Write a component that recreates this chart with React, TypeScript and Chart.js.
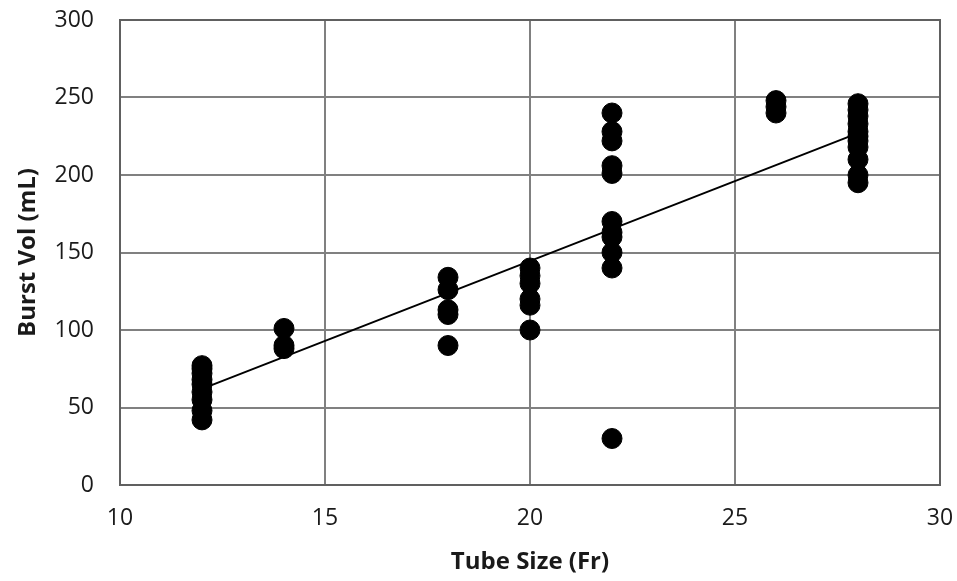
import React, { useEffect, useRef } from "react";
import { Chart, registerables } from "chart.js";

Chart.register(...registerables);

const xTicks = [10, 15, 20, 25, 30];
const yTicks = [0, 50, 100, 150, 200, 250, 300];

const size12 = [77, 75, 72, 68, 65, 60, 55, 48, 42];
const size14 = [101, 90, 88];
const size18 = [134, 126, 113, 110, 90];
const size20 = [140, 135, 130, 120, 116, 100];
const size22 = [240, 228, 222, 206, 201, 170, 163, 160, 150, 140, 30];
const size26 = [248, 244, 240];
const size28 = [246, 242, 238, 233, 228, 225, 222, 218, 210, 200, 195];

const groups: [number, number[]][] = [
  [12, size12],
  [14, size14],
  [18, size18],
  [20, size20],
  [22, size22],
  [26, size26],
  [28, size28],
];

const trendX = [12, 28];
const trendY = [62, 227];

export default function App() {
  const ref = useRef<HTMLCanvasElement | null>(null);
  useEffect(() => {
    document.body.style.margin = "0";
    const points = groups.flatMap(([x, ys]) => ys.map((y) => ({ x, y })));
    const trend = trendX.map((x, i) => ({ x, y: trendY[i] }));
    const font = "'Open Sans', 'Noto Sans', sans-serif";
    const chart = new Chart(ref.current!, {
      type: "scatter",
      data: {
        datasets: [
          {
            data: trend,
            type: "line",
            borderColor: "#000",
            borderWidth: 2,
            pointRadius: 0,
            fill: false,
          },
          {
            data: points,
            backgroundColor: "#000",
            borderColor: "#000",
            pointRadius: 10,
            pointHoverRadius: 10,
          },
        ],
      },
      options: {
        animation: false,
        responsive: false,
        layout: { padding: { top: 20, right: 17, left: 10, bottom: 0 } },
        plugins: { legend: { display: false }, tooltip: { enabled: false } },
        scales: {
          x: {
            type: "linear",
            min: 10,
            max: 30,
            afterBuildTicks: (s: any) => {
              s.ticks = xTicks.map((v) => ({ value: v }));
            },
            afterFit: (s: any) => {
              s.height = 96;
              s.paddingLeft = 0;
              s.paddingRight = 0;
            },
            grid: { color: "#808080", lineWidth: 2, drawTicks: false },
            border: { color: "#606060", width: 2 },
            ticks: { color: "#1a1a1a", font: { size: 23, family: font }, padding: 20 },
            title: {
              display: true,
              text: "Tube Size (Fr)",
              color: "#1a1a1a",
              font: { size: 24, weight: "bold", family: font },
              padding: { top: 8 },
            },
          },
          y: {
            type: "linear",
            min: 0,
            max: 300,
            afterBuildTicks: (s: any) => {
              s.ticks = yTicks.map((v) => ({ value: v }));
            },
            afterFit: (s: any) => {
              s.width = 110;
              s.paddingTop = 0;
              s.paddingBottom = 0;
            },
            grid: { color: "#808080", lineWidth: 2, drawTicks: false },
            border: { color: "#606060", width: 2 },
            ticks: { color: "#1a1a1a", font: { size: 23, family: font }, padding: 26 },
            title: {
              display: true,
              text: "Burst Vol (mL)",
              color: "#1a1a1a",
              font: { size: 24, weight: "bold", family: font },
              padding: { bottom: 0 },
            },
          },
        },
      },
      plugins: [
        {
          id: "frame",
          afterDraw: (c: any) => {
            const { left, right, top, bottom } = c.chartArea;
            const ctx = c.ctx;
            ctx.save();
            ctx.strokeStyle = "#606060";
            ctx.lineWidth = 2;
            ctx.strokeRect(left, top, right - left, bottom - top);
            ctx.restore();
          },
        },
      ],
    } as any);
    return () => chart.destroy();
  }, []);
  return <canvas ref={ref} width={957} height={581} style={{ display: "block" }} />;
}
